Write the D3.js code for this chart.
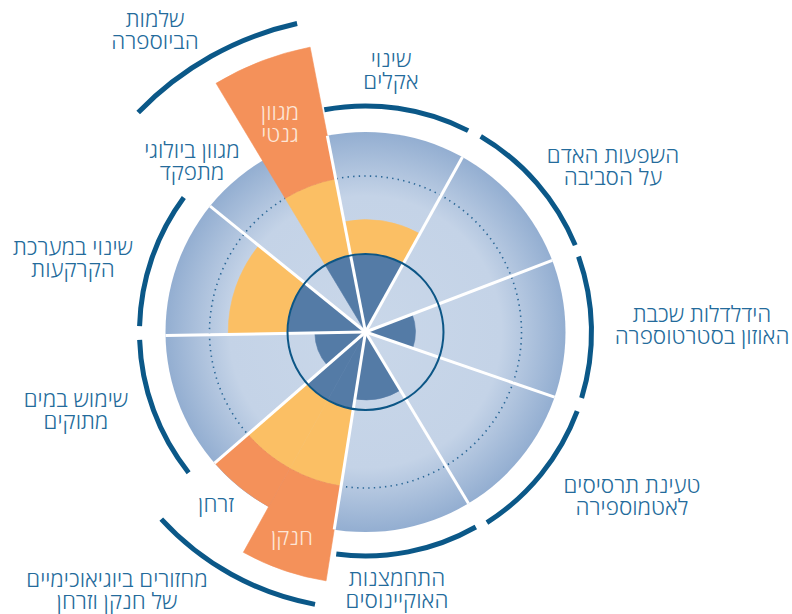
<!DOCTYPE html>
<html lang="he">
<head>
<meta charset="utf-8">
<script src="https://cdn.jsdelivr.net/npm/d3@7"></script>
<style>
  body { margin: 0; background: #fff; }
  text { font-family: "Open Sans", "DejaVu Sans", sans-serif; font-weight: 300; }
</style>
</head>
<body>
<svg id="drawing_region"></svg>
<script>
// boundaries (clockwise from the top)
const groupLabels = [
  ["שינוי", "אקלים"],
  ["השפעות האדם", "על הסביבה"],
  ["הידלדלות שכבת", "האוזון בסטרטוספרה"],
  ["טעינת תרסיסים", "לאטמוספירה"],
  ["התחמצנות", "האוקיינוסים"],
  ["מחזורים ביוגיאוכימיים", "של חנקן וזרחן"],
  ["שימוש במים", "מתוקים"],
  ["שינוי במערכת", "הקרקעות"],
  ["שלמות", "הביוספרה"]
];

// wedges, their group and value (1 = boundary, null = not quantified)
const wedgeKeys   = ["climate", "novel", "ozone", "aerosol", "ocean", "nitrogen", "phosphorus", "water", "land", "functional", "genetic"];
const wedgeGroup  = [0, 1, 2, 3, 4, 5, 5, 6, 7, 8, 8];
const wedgeValues = [1.44, null, 0.64, null, 0.87, 3.23, 2.56, 0.65, 1.76, null, 3.72];
const wedgeLabels = [null, null, null, null, null, ["חנקן"], ["זרחן"], null, null, ["מגוון ביולוגי", "מתפקד"], ["מגוון", "גנטי"]];

const config = {
  width: 792, height: 614,
  cx: 365.5, cy: 332,
  boundary: 78, disk: 200,
  start: -11
};

const svg = d3.select('#drawing_region')
  .attr('width', config.width)
  .attr('height', config.height);

const rad = a => a * Math.PI / 180;

const chart = svg.append('g')
  .attr('transform', `translate(${config.cx}, ${config.cy})`);

// angle scale for the nine boundaries
const angle = d3.scaleBand()
  .domain(d3.range(groupLabels.length))
  .range([rad(config.start), rad(config.start + 360)]);

// radius scale: 1 = planetary boundary
const rscale = d3.scaleLinear()
  .domain([0, 1])
  .range([0, config.boundary]);

// sub-wedge angles
const wedges = wedgeKeys.map((k, i) => {
  const g = wedgeGroup[i];
  const members = wedgeGroup.map((v, j) => v === g ? j : -1).filter(j => j >= 0);
  const sub = d3.scaleBand().domain(members).range([angle(g), angle(g) + angle.bandwidth()]);
  return { key: k, group: g, value: wedgeValues[i], label: wedgeLabels[i],
           a0: sub(i), a1: sub(i) + sub.bandwidth() };
});

// background disk with radial gradient
const defs = svg.append('defs');
const grad = defs.append('radialGradient').attr('id', 'diskGrad')
  .attr('cx', '50%').attr('cy', '50%').attr('r', '50%');
grad.append('stop').attr('offset', '0%').attr('stop-color', '#c9d7e9');
grad.append('stop').attr('offset', '68%').attr('stop-color', '#c4d3e7');
grad.append('stop').attr('offset', '100%').attr('stop-color', '#93aed1');

chart.append('circle')
  .attr('r', config.disk)
  .attr('fill', 'url(#diskGrad)');

// dotted high-risk circle
chart.append('circle')
  .attr('r', rscale(2))
  .attr('fill', 'none')
  .attr('stroke', '#2a6796')
  .attr('stroke-width', 1.6)
  .attr('stroke-dasharray', '1.4 4.2');

// zones: safe (dark blue), increasing risk (yellow), high risk (orange)
const zones = [
  { from: 0, to: 1, color: '#547ba6' },
  { from: 1, to: 2, color: '#fbbf64' },
  { from: 2, to: 99, color: '#f4915a' }
];

const arc = d3.arc();

wedges.filter(w => w.value !== null).forEach(w => {
  zones.forEach(z => {
    if (w.value <= z.from) return;
    chart.append('path')
      .attr('d', arc({
        innerRadius: rscale(z.from),
        outerRadius: rscale(Math.min(w.value, z.to)),
        startAngle: w.a0, endAngle: w.a1
      }))
      .attr('fill', z.color)
      .attr('stroke', z.color)
      .attr('stroke-width', 0.6);
  });
});

// white separators between boundaries
chart.selectAll('line.sep')
  .data(d3.range(groupLabels.length))
  .join('line')
  .attr('class', 'sep')
  .attr('x1', 0).attr('y1', 0)
  .attr('x2', g => config.disk * Math.sin(angle(g)))
  .attr('y2', g => -config.disk * Math.cos(angle(g)))
  .attr('stroke', '#fff')
  .attr('stroke-width', 3);

// boundary circle
chart.append('circle')
  .attr('r', rscale(1))
  .attr('fill', 'none')
  .attr('stroke', '#0c5686')
  .attr('stroke-width', 2);

// outer group arcs
const groupArcR = [226, 227, 226, 226, 224, 277, 226, 226, 316];
const padStart  = [0.5, 1.5, 1.5, 1.5, 1.5, 1.5, 2.5, 2.5, 5];
const padEnd    = [2, 1.5, 2, 1.5, 1.5, 1.5, 1, 2.5, 1.5];
groupLabels.forEach((lab, g) => {
  chart.append('path')
    .attr('d', d3.arc()({
      innerRadius: groupArcR[g], outerRadius: groupArcR[g],
      startAngle: angle(g) + rad(padStart[g]),
      endAngle: angle(g) + angle.bandwidth() - rad(padEnd[g])
    }))
    .attr('fill', 'none')
    .attr('stroke', '#0b5888')
    .attr('stroke-width', 5)
    .attr('stroke-linecap', 'round');
});

// labels
const textColor = '#246b9b';
const groupLabelPos = [[391, 67], [613, 163], [702, 322], [632, 493], [397, 586], [117, 587], [76, 407], [73, 255], [155, 27]];
const wedgeLabelPos = { nitrogen: [292, 545, '#fde6d7'], phosphorus: [216, 512, textColor],
                        functional: [192, 158, textColor], genetic: [280, 120, '#fde6d7'] };

function drawLabel(lines, x, y, color) {
  lines.forEach((s, i) => {
    svg.append('text')
      .attr('x', x).attr('y', y + i * 21.5)
      .attr('text-anchor', 'middle')
      .attr('font-size', 22.5)
      .attr('fill', color)
      .text(s);
  });
}

groupLabels.forEach((lines, g) => drawLabel(lines, groupLabelPos[g][0], groupLabelPos[g][1], textColor));
wedges.filter(w => w.label).forEach(w => {
  const p = wedgeLabelPos[w.key];
  drawLabel(w.label, p[0], p[1], p[2]);
});
</script>
</body>
</html>
